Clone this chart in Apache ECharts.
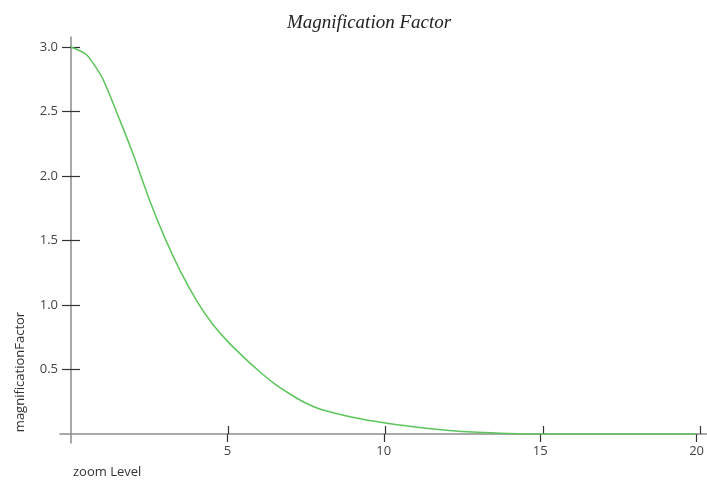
<!DOCTYPE html>
<html>
<head>
<meta charset="utf-8">
<script src="https://cdn.jsdelivr.net/npm/echarts@6/dist/echarts.min.js"></script>
<style>
  html, body { margin: 0; padding: 0; background: #fff; }
  #chart { width: 707px; height: 481px; }
</style>
</head>
<body>
<div id="chart"></div>
<script>
const zoomLevel = [0, 0.5, 1, 1.5, 2, 2.5, 3, 3.5, 4, 4.5, 5, 5.5, 6, 6.5, 7, 7.5, 8, 9, 10, 11, 12, 13, 14, 15, 16, 17, 18, 19, 20]
const magnificationFactor = [3.0, 2.94, 2.76, 2.47, 2.16, 1.82, 1.52, 1.26, 1.04, 0.86, 0.72, 0.6, 0.49, 0.39, 0.31, 0.24, 0.19, 0.13, 0.087, 0.055, 0.03, 0.013, 0.004, 0, 0, 0, 0, 0, 0]

const xTicks = [5, 10, 15, 20]
const yTicks = [0.5, 1.0, 1.5, 2.0, 2.5, 3.0]
const xRange = [0, 20]
const yRange = [0, 3]
// how far the axis lines run past the plotted range
const xLineRange = [-0.35, 20.22]
const yLineRange = [-0.07, 3.078]

const titleText = 'Magnification Factor'
const xName = 'zoom Level'
const yName = 'magnificationFactor'

const labelFont = { color: '#444', fontSize: 13, fontFamily: 'Open Sans' }

const chart = echarts.init(document.getElementById('chart'))

const hidden = { show: false }
const tickStyle = { color: '#333', width: 1.2 }

chart.setOption({
  animation: false,
  title: {
    text: titleText,
    left: 282, top: 8,
    textStyle: { fontFamily: 'Liberation Serif', fontStyle: 'italic', fontWeight: 'normal', fontSize: 19, color: '#222' }
  },
  grid: [
    // data + outer ticks + labels
    { left: 71, right: 7, top: 47, bottom: 47 },
    // inner half of the ticks
    { left: 71, right: 7, top: 47, bottom: 47 },
    // axis lines, a bit longer than the data range
    { left: 60, right: 0, top: 37, bottom: 38 }
  ],
  xAxis: [
    {
      gridIndex: 0, type: 'value', min: xRange[0], max: xRange[1],
      axisLine: hidden, splitLine: hidden,
      axisTick: { inside: false, length: 8, customValues: xTicks, lineStyle: tickStyle },
      axisLabel: { ...labelFont, margin: 11, customValues: xTicks }
    },
    {
      gridIndex: 1, type: 'value', min: xRange[0], max: xRange[1],
      axisLine: hidden, splitLine: hidden, axisLabel: hidden,
      axisTick: { inside: true, length: 8, customValues: xTicks, lineStyle: tickStyle }
    },
    {
      gridIndex: 2, type: 'value', min: xLineRange[0], max: xLineRange[1],
      splitLine: hidden, axisLabel: hidden, axisTick: hidden,
      axisLine: { onZero: true, lineStyle: { color: '#8c8c8c', width: 1.5 } }
    }
  ],
  yAxis: [
    {
      gridIndex: 0, type: 'value', min: yRange[0], max: yRange[1],
      axisLine: hidden, splitLine: hidden,
      axisTick: { inside: false, length: 9, customValues: yTicks, lineStyle: tickStyle },
      axisLabel: { ...labelFont, margin: 13, customValues: yTicks, formatter: v => v.toFixed(1) }
    },
    {
      gridIndex: 1, type: 'value', min: yRange[0], max: yRange[1],
      axisLine: hidden, splitLine: hidden, axisLabel: hidden,
      axisTick: { inside: true, length: 9, customValues: yTicks, lineStyle: tickStyle }
    },
    {
      gridIndex: 2, type: 'value', min: yLineRange[0], max: yLineRange[1],
      splitLine: hidden, axisLabel: hidden, axisTick: hidden,
      axisLine: { onZero: true, lineStyle: { color: '#8c8c8c', width: 1.5 } }
    }
  ],
  series: [{
    type: 'line',
    xAxisIndex: 0, yAxisIndex: 0,
    data: zoomLevel.map((x, i) => [x, magnificationFactor[i]]),
    smooth: 0.2,
    showSymbol: false,
    lineStyle: { color: '#5cc65c', width: 1.5 },
    z: 5
  }],
  graphic: [
    {
      type: 'text', x: 20, y: 372, rotation: Math.PI / 2,
      style: { text: yName, fill: '#333', fontSize: 13, fontFamily: 'Open Sans', align: 'center', verticalAlign: 'middle' }
    },
    {
      type: 'text', x: 73, y: 472,
      style: { text: xName, fill: '#333', fontSize: 13, fontFamily: 'Open Sans', align: 'left', verticalAlign: 'middle' }
    }
  ]
})
</script>
</body>
</html>
